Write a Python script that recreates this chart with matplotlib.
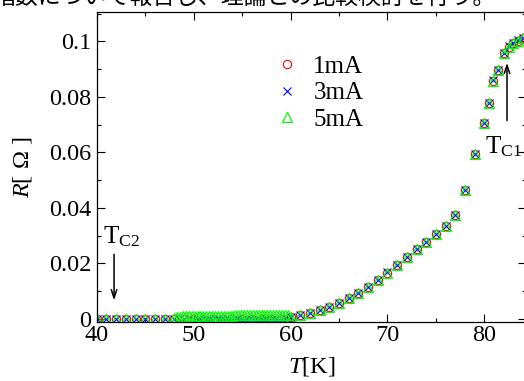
import matplotlib
matplotlib.use("Agg")
import matplotlib.pyplot as plt
from matplotlib.ticker import MultipleLocator

# 温度[K] と 抵抗[Ω]
T_hi = [60, 61, 62, 63, 64, 65, 66, 67, 68, 69, 70, 71, 72, 73, 74, 75, 76, 77,
        78, 79, 80, 80.5, 80.9, 81.4, 82, 82.5, 83, 83.5, 84]
R_hi_1mA = [0.0008, 0.0014, 0.0021, 0.0032, 0.0044, 0.0059, 0.0074, 0.0093, 0.0114,
            0.0141, 0.0167, 0.0195, 0.0222, 0.0252, 0.0279, 0.0306, 0.0335, 0.0375,
            0.0465, 0.0594, 0.0705, 0.0777, 0.0859, 0.0897, 0.0957, 0.0981, 0.0994,
            0.1003, 0.1012]
R_hi_3mA = [0.0008, 0.0014, 0.0021, 0.0032, 0.0044, 0.0059, 0.0075, 0.0093, 0.0115,
            0.0141, 0.0168, 0.0195, 0.0223, 0.0252, 0.0279, 0.0307, 0.0335, 0.0376,
            0.0466, 0.0595, 0.0706, 0.0778, 0.0860, 0.0898, 0.0958, 0.0982, 0.0995,
            0.1004, 0.1013]
R_hi_5mA = [0.0008, 0.0014, 0.0021, 0.0032, 0.0044, 0.0059, 0.0074, 0.0093, 0.0114,
            0.0141, 0.0167, 0.0195, 0.0222, 0.0252, 0.0279, 0.0306, 0.0335, 0.0375,
            0.0465, 0.0594, 0.0705, 0.0777, 0.0859, 0.0897, 0.0957, 0.0981, 0.0994,
            0.1003, 0.1012]

# 低温側
T_lo_1mA = [40, 41, 42, 43, 44, 45, 46, 47, 48, 49, 50, 51, 52, 53, 54, 55, 56, 57, 58, 59]
R_lo_1mA = [0.0] * 20

T_lo_3mA = [40, 41, 42, 43, 44, 45, 46, 47, 48, 49,
            50.0, 50.4, 50.8, 51.2, 51.6, 52.0, 52.4, 52.8, 53.2, 53.6, 54.0, 54.4, 54.8,
            55.2, 55.6, 56.0, 56.4, 56.8, 57.2, 57.6, 58.0, 58.4, 58.8, 59.2, 59.6]
R_lo_3mA = [0.0, 0.0, 0.0, 0.0, 0.0, 0.0, 0.0, 0.0, 0.0, 0.0,
            -0.0005, -0.0005, -0.0005, -0.0005, -0.0005, -0.0005, -0.0005, -0.0005,
            -0.0005, -0.0005, -0.0005, -0.0005, -0.0005, -0.0005, -0.0005, -0.0005,
            -0.0005, -0.0005, -0.0004, -0.0004, -0.0004, -0.0004, -0.0003, -0.0002, -0.0001]

T_lo_5mA = [40, 41, 42, 43, 44, 45, 46, 47, 48,
            48.3, 48.6, 48.9, 49.2, 49.5, 49.8, 50.1, 50.4, 50.7, 51.0,
            51.3, 51.6, 51.9, 52.2, 52.5, 52.8, 53.1, 53.4, 53.7, 54.0,
            54.3, 54.6, 54.9, 55.2, 55.5, 55.8, 56.1, 56.4, 56.7, 57.0,
            57.3, 57.6, 57.9, 58.2, 58.5, 58.8, 59.1, 59.4, 59.7]
R_lo_5mA = [0.0, 0.0, 0.0, 0.0, 0.0, 0.0, 0.0, 0.0, 0.0003,
            0.0006, 0.0008, 0.0009, 0.0010, 0.0010, 0.0010, 0.0011, 0.0011, 0.0011, 0.0011,
            0.0011, 0.0011, 0.0012, 0.0012, 0.0012, 0.0012, 0.0012, 0.0012, 0.0012, 0.0012,
            0.0013, 0.0013, 0.0013, 0.0013, 0.0013, 0.0013, 0.0013, 0.0013, 0.0014, 0.0014,
            0.0014, 0.0014, 0.0014, 0.0014, 0.0014, 0.0014, 0.0014, 0.0014, 0.0013]

labels = ["1mA", "3mA", "5mA"]

plt.rcParams["font.family"] = ["Liberation Serif"]
plt.rcParams["mathtext.fontset"] = "custom"
plt.rcParams["mathtext.rm"] = "Liberation Serif"
plt.rcParams["mathtext.it"] = "Liberation Serif:italic"

fig = plt.figure(figsize=(5.24, 3.81), dpi=100)
ax = fig.add_axes([96.8 / 524, 1 - 322 / 381, (526 - 96.8) / 524, (322 - 12) / 381])

ax.plot(T_lo_1mA + T_hi, R_lo_1mA + R_hi_1mA, linestyle="none", marker="o", ms=6,
        mfc="none", mec="#ff0000", mew=0.8, label=labels[0])
ax.plot(T_lo_3mA + T_hi, R_lo_3mA + R_hi_3mA, linestyle="none", marker="x", ms=6,
        mec="#0000ff", mew=0.8, label=labels[1])
ax.plot(T_lo_5mA + T_hi, R_lo_5mA + R_hi_5mA, linestyle="none", marker="^", ms=7,
        mfc="none", mec="#00ff00", mew=0.9, label=labels[2])

ax.set_xlim(40, 84.3)
ax.set_ylim(-0.0011, 0.1106)
ax.xaxis.set_major_locator(MultipleLocator(10))
ax.xaxis.set_minor_locator(MultipleLocator(5))
ax.yaxis.set_major_locator(MultipleLocator(0.02))
ax.yaxis.set_minor_locator(MultipleLocator(0.01))
ax.tick_params(which="both", direction="in", top=True, right=True, labelsize=17.5, width=0.8)
ax.tick_params(which="major", length=6)
ax.tick_params(which="minor", length=3)
ax.tick_params(axis="x", pad=2)
ax.tick_params(axis="y", pad=4)
ax.yaxis.set_major_formatter(plt.FuncFormatter(lambda v, p: "0" if abs(v) < 1e-9 else ("%g" % round(v, 3))))
for s in ax.spines.values():
    s.set_linewidth(0.9)

ax.set_xlabel(r"$T$[K]", fontsize=17.5, labelpad=7)
ax.set_ylabel(r"$R$[ Ω ]", fontsize=17.5, labelpad=11)

leg = ax.legend(loc="upper left", bbox_to_anchor=(0.385, 0.90), frameon=False, fontsize=18,
                handlelength=1.0, handletextpad=0.55, labelspacing=0.15, borderpad=0)

# 矢印と T_C
ax.annotate("", xy=(41.78, 0.0057), xytext=(41.78, 0.0243),
            arrowprops=dict(arrowstyle="->,head_length=0.6,head_width=0.2", lw=1.1, color="black"))
ax.text(40.64, 0.0274, r"T$_{\mathrm{C2}}$", fontsize=18, ha="left", va="baseline")
ax.annotate("", xy=(82.34, 0.0933), xytext=(82.34, 0.0705),
            arrowprops=dict(arrowstyle="->,head_length=0.6,head_width=0.2", lw=1.1, color="black"))
ax.text(80.1, 0.0597, r"T$_{\mathrm{C1}}$", fontsize=18, ha="left", va="baseline")

fig.text(-0.014, 1.008, "指数について報告し、理論との比較検討を行う。", fontsize=16.5,
         family=["Noto Sans CJK JP"], ha="left", va="center")

fig.savefig("out.png", dpi=100)
